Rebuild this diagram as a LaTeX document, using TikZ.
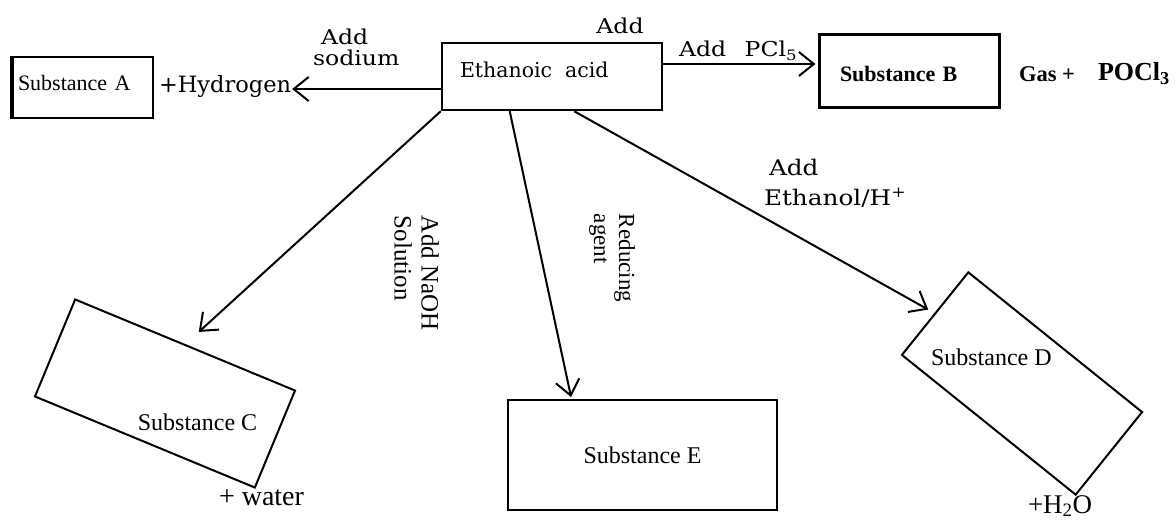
\documentclass[tikz,border=0pt]{standalone}
\usepackage{fontspec}
\setmainfont{Liberation Serif}
\newfontfamily\bk{DejaVu Serif}
\newfontfamily\bkw[FakeStretch=1.15]{DejaVu Serif}
\usetikzlibrary{arrows.meta,calc}
\begin{document}
\begin{tikzpicture}[x=1pt,y=-1pt,
  line width=2pt,
  arr/.style={-{Straight Barb[length=15pt,width=24pt]}},
  box/.style={draw, line width=2pt, inner sep=0pt},
  bkf/.style={font=\bkw\fontsize{20.5}{21}\selectfont, inner sep=0pt},
  tm/.style={font=\fontsize{24}{27}\selectfont, inner sep=0pt},
  rt/.style={inner sep=0pt, rotate=-90, align=left, anchor=north west},
]
\useasboundingbox[fill=white] (0,0) rectangle (1176,529);

% boxes
\node[box, line width=2.5pt, minimum width=220pt, minimum height=67pt, text width=184pt,
      align=left, text depth=13pt, font=\bk\fontsize{20.5}{23}\selectfont] (eth) at (552,76.5) {Ethanoic\hspace{0.3em} acid};
\node[box, line width=1.6pt, minimum width=140pt, minimum height=61pt, text width=130pt,
      align=left, text depth=10pt, font=\fontsize{22}{25}\selectfont] (A) at (83,87.5) {Substance A};
\draw[line width=3.5pt] (A.north west) -- (A.south west);
\node[box, line width=3pt, minimum width=180pt, minimum height=73pt, text width=138pt, align=left,
      text height=21pt, text depth=0pt,
      font=\bfseries\fontsize{22}{25}\selectfont] (B) at (909,71.5) {Substance B};
\node[box, minimum width=269pt, minimum height=110pt, tm] (E) at (642.5,455) {Substance E};
\node[box, minimum width=238pt, minimum height=105pt, rotate=-22.5] (C) at (165,393.5) {};
\node[box, minimum width=223pt, minimum height=106pt, rotate=-38.8] (D) at (1022,383.5) {};

% texts
\node[inner sep=0pt, font=\bk\fontsize{22.5}{26}\selectfont, anchor=base west] (hyd) at (158,93) {+Hydrogen};
\node[bkf, align=left, anchor=north west] (lsod) at (312,28) {\hspace*{8pt}Add\\sodium};
\node[bkf, anchor=north] (ladd) at (620,17) {Add};
\node[bkf, anchor=base west] (lpcl) at (678,57) {Add\hspace{0.9em}PCl\textsubscript{5}};
\node[inner sep=0pt, anchor=base west, font=\bfseries\fontsize{22.5}{25}\selectfont] (gas) at (1018,82) {Gas +};
\node[inner sep=0pt, anchor=base west, font=\bfseries\fontsize{26}{28}\selectfont] (pocl) at (1097,81) {POCl\textsubscript{3}};
\node[bkf, font=\bkw\fontsize{21.5}{30}\selectfont, align=left, anchor=north west] (leth) at (763,158) {\hspace*{5pt}Add\\Ethanol/H\textsuperscript{+}};
\node[rt, font=\fontsize{25}{27}\selectfont] (lnaoh) at (440,215) {Add NaOH\\Solution};
\node[rt, font=\fontsize{23}{25}\selectfont] (lred) at (636,213) {Reducing\\agent};
\node[tm, anchor=base] (Ct) at (197.5,431) {Substance C};
\node[tm, font=\fontsize{28}{30}\selectfont, anchor=base west] (water) at (218,505) {+ water};
\node[tm, anchor=base west] (Dt) at (930,366) {Substance D};
\node[tm, font=\fontsize{27}{30}\selectfont, anchor=base west] (h2o) at (1027,513) {+H\textsubscript{2}O};

% connectors
\draw[arr] ([yshift=-12.5pt]eth.west) -- ([yshift=-12.5pt]eth.west -| hyd.east);
\draw[arr, shorten >=2pt] ([yshift=12.5pt]eth.east) -- ([yshift=12.5pt]eth.east -| B.west);
\draw[arr, shorten >=18pt] (eth.south west) -- (C.north);
\draw[arr, shorten >=2pt] ($(eth.south west)!0.31!(eth.south east)$) -- ($(E.north west)!0.238!(E.north east)$);
\draw[arr, shorten >=7pt] ($(eth.south west)!0.6!(eth.south east)$) -- (D.west);
\end{tikzpicture}
\end{document}
